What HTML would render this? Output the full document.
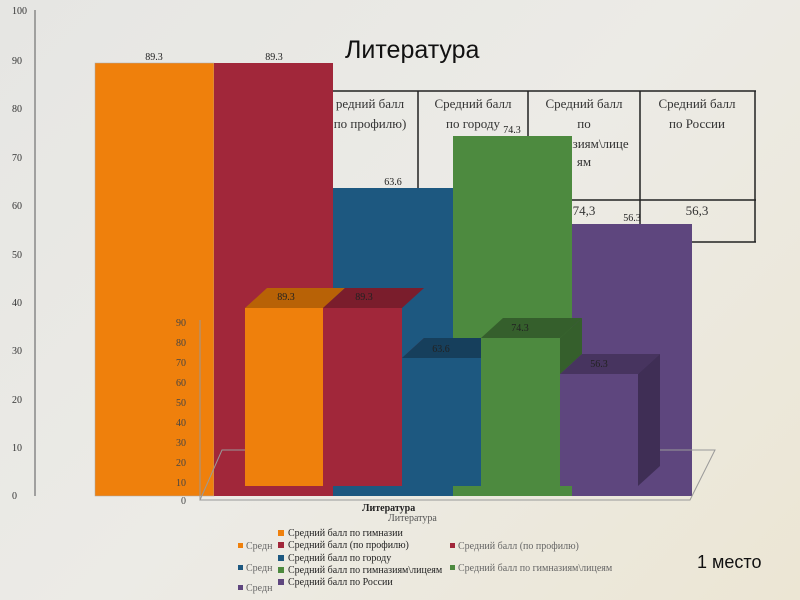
<html><head><style>
body{margin:0;width:800px;height:600px;overflow:hidden;background:linear-gradient(135deg,#e6e6e3 0%,#ecebe6 50%,#ece6d4 100%);font-family:"Liberation Serif",serif;}
</style></head><body>
<svg width="800" height="600" style="position:absolute;left:0;top:0" font-family="Liberation Serif, serif">
<line x1="35" y1="10" x2="35" y2="496" stroke="#888" stroke-width="1.5"/>
<g font-size="10" fill="#333">
<text x="12" y="14">100</text><text x="12" y="64">90</text><text x="12" y="112">80</text><text x="12" y="161">70</text><text x="12" y="209">60</text><text x="12" y="258">50</text><text x="12" y="306">40</text><text x="12" y="354">30</text><text x="12" y="403">20</text><text x="12" y="451">10</text><text x="12" y="499">0</text>
</g>
<text x="345" y="58" font-family="Liberation Sans, sans-serif" font-size="25" fill="#111">Литература</text>
<!-- table -->
<g stroke="#222" stroke-width="1.5" fill="none">
<line x1="333" y1="91" x2="756" y2="91"/><line x1="333" y1="200" x2="756" y2="200"/><line x1="333" y1="242" x2="756" y2="242"/>
<line x1="418" y1="91" x2="418" y2="242"/><line x1="528" y1="91" x2="528" y2="242"/><line x1="640" y1="91" x2="640" y2="242"/><line x1="755" y1="91" x2="755" y2="242"/>
</g>
<g font-size="13" fill="#333" text-anchor="middle">
<text x="370" y="108">редний балл</text><text x="370" y="128">по профилю)</text>
<text x="473" y="108">Средний балл</text><text x="473" y="128">по городу</text>
<text x="584" y="108">Средний балл</text><text x="584" y="128">по</text><text x="584" y="148">гимназиям\лице</text><text x="584" y="166">ям</text>
<text x="697" y="108">Средний балл</text><text x="697" y="128">по России</text>
<text x="584" y="215">74,3</text><text x="697" y="215">56,3</text>
</g>
<!-- big bars -->
<rect x="95" y="63" width="119" height="433" fill="#ef800c" stroke="#aaa" stroke-width=".5"/>
<rect x="214" y="63" width="119" height="433" fill="#a1273a"/>
<rect x="333" y="188" width="120" height="308" fill="#1d5880"/>
<rect x="453" y="136" width="119" height="360" fill="#4d8a3f"/>
<rect x="572" y="224" width="120" height="272" fill="#5e467e"/>
<g font-size="10" fill="#222" text-anchor="middle">
<text x="154" y="60">89.3</text><text x="274" y="60">89.3</text><text x="393" y="185">63.6</text><text x="512" y="133">74.3</text><text x="632" y="221">56.3</text>
</g>
<!-- small 3D -->
<polygon points="200,500 690,500 715,450 222,450" fill="none" stroke="#999"/>
<line x1="200" y1="320" x2="200" y2="500" stroke="#999"/>
<g font-size="10" fill="#444" text-anchor="end">
<text x="186" y="326">90</text><text x="186" y="346">80</text><text x="186" y="366">70</text><text x="186" y="386">60</text><text x="186" y="406">50</text><text x="186" y="426">40</text><text x="186" y="446">30</text><text x="186" y="466">20</text><text x="186" y="486">10</text><text x="186" y="504">0</text>
</g>
<polygon points="245,308 267,288 345,288 323,308" fill="#b86206"/>
<polygon points="323,308 345,288 424,288 402,308" fill="#7a1d2c"/>
<rect x="245" y="308" width="78" height="178" fill="#ef800c"/>
<rect x="323" y="308" width="79" height="178" fill="#a1273a"/>
<polygon points="402,358 424,338 424,466 402,486" fill="#7a1d2c"/>
<polygon points="402,358 424,338 503,338 481,358" fill="#163f5c"/>
<rect x="402" y="358" width="79" height="128" fill="#1d5880"/>
<polygon points="481,338 503,318 582,318 560,338" fill="#355f2c"/>
<rect x="481" y="338" width="79" height="148" fill="#4d8a3f"/>
<polygon points="560,338 582,318 582,354 560,374" fill="#355f2c"/>
<polygon points="560,374 582,354 660,354 638,374" fill="#47345f"/>
<polygon points="638,374 660,354 660,466 638,486" fill="#3f2e55"/>
<rect x="560" y="374" width="78" height="112" fill="#5e467e"/>
<g font-size="10" fill="#222" text-anchor="middle">
<text x="286" y="300">89.3</text><text x="364" y="300">89.3</text><text x="441" y="352">63.6</text><text x="520" y="331">74.3</text><text x="599" y="367">56.3</text>
</g>
<!-- legend -->
<g font-size="10" fill="#222">
<text x="362" y="511" font-weight="bold">Литература</text>
<text x="388" y="521" fill="#555">Литература</text>
<rect x="278" y="530" width="6" height="6" fill="#ef800c"/><text x="288" y="536">Средний балл по гимназии</text>
<rect x="278" y="542" width="6" height="6" fill="#a1273a"/><text x="288" y="548">Средний балл (по профилю)</text>
<rect x="278" y="555" width="6" height="6" fill="#1d5880"/><text x="288" y="561">Средний балл по городу</text>
<rect x="278" y="567" width="6" height="6" fill="#4d8a3f"/><text x="288" y="573">Средний балл по гимназиям\лицеям</text>
<rect x="278" y="579" width="6" height="6" fill="#5e467e"/><text x="288" y="585">Средний балл по России</text>
<g fill="#666"><rect x="238" y="543" width="5" height="5" fill="#ef800c"/><text x="246" y="549">Средн</text>
<rect x="450" y="543" width="5" height="5" fill="#a1273a"/><text x="458" y="549">Средний балл (по профилю)</text>
<rect x="238" y="565" width="5" height="5" fill="#1d5880"/><text x="246" y="571">Средн</text>
<rect x="450" y="565" width="5" height="5" fill="#4d8a3f"/><text x="458" y="571">Средний балл по гимназиям\лицеям</text>
<rect x="238" y="585" width="5" height="5" fill="#5e467e"/><text x="246" y="591">Средн</text></g>
</g>
<text x="697" y="568" font-family="Liberation Sans, sans-serif" font-size="18" fill="#111">1 место</text>
</svg>
</body></html>
